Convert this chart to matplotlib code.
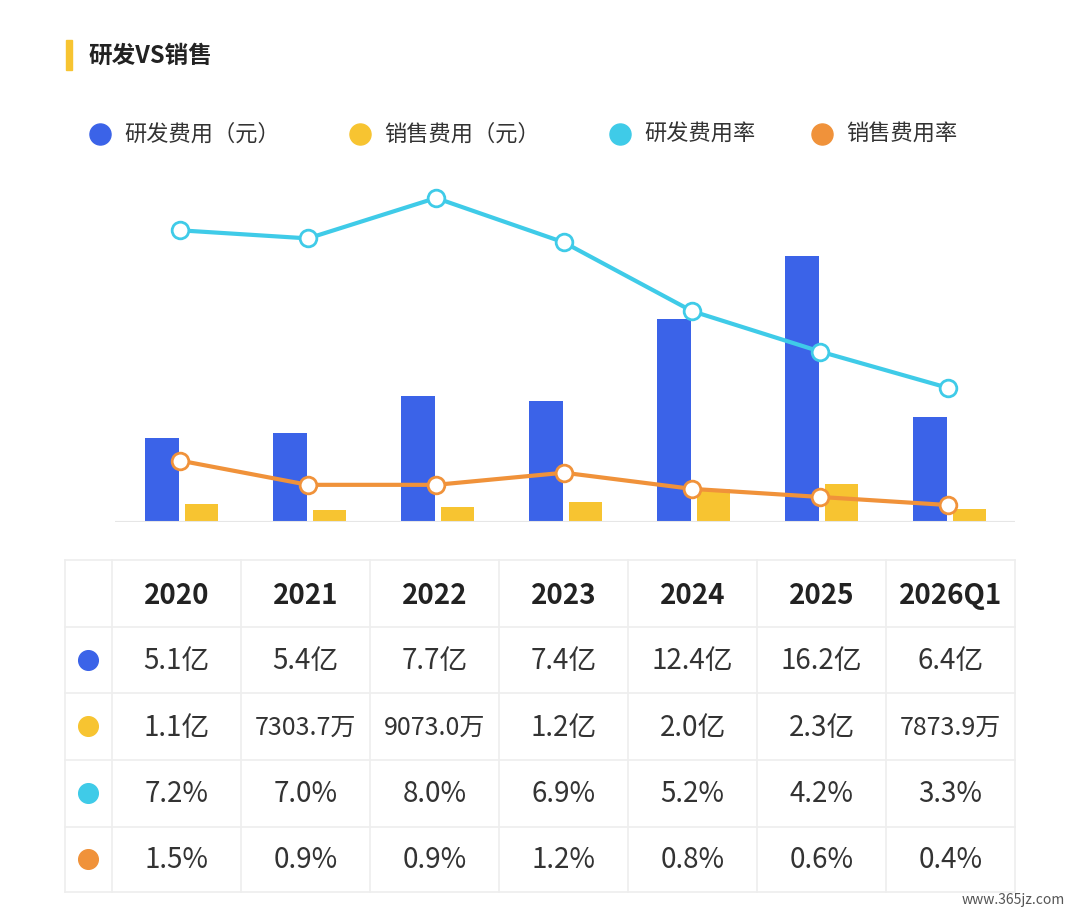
import matplotlib
matplotlib.use("Agg")
import matplotlib.pyplot as plt

plt.rcParams['font.family'] = ['Noto Sans CJK SC', 'DejaVu Sans']

categories = ["2020", "2021", "2022", "2023", "2024", "2025", "2026Q1"]
rd_cost = [5.1, 5.4, 7.7, 7.4, 12.4, 16.2, 6.4]          # 亿
sales_cost = [1.1, 0.73037, 0.9073, 1.2, 2.0, 2.3, 0.78739]  # 亿
rd_rate = [7.2, 7.0, 8.0, 6.9, 5.2, 4.2, 3.3]
sales_rate = [1.5, 0.9, 0.9, 1.2, 0.8, 0.6, 0.4]
rd_labels = ["5.1亿", "5.4亿", "7.7亿", "7.4亿", "12.4亿", "16.2亿", "6.4亿"]
sales_labels = ["1.1亿", "7303.7万", "9073.0万", "1.2亿", "2.0亿", "2.3亿", "7873.9万"]
rd_rate_labels = ["7.2%", "7.0%", "8.0%", "6.9%", "5.2%", "4.2%", "3.3%"]
sales_rate_labels = ["1.5%", "0.9%", "0.9%", "1.2%", "0.8%", "0.6%", "0.4%"]
legend_names = ["研发费用（元）", "销售费用（元）", "研发费用率", "销售费用率"]

BLUE, YELLOW, CYAN, ORANGE = "#3b63e8", "#f7c431", "#3fcbe8", "#f0923a"
W, H = 1080, 913
fig = plt.figure(figsize=(W/100, H/100), dpi=100)
bg = fig.add_axes([0, 0, 1, 1])
bg.set_xlim(0, W); bg.set_ylim(H, 0); bg.axis("off")

# title
bg.add_patch(plt.Rectangle((66, 40), 6, 30, color=YELLOW))
bg.text(88, 56, "研发VS销售", fontsize=17, fontweight="bold", va="center", color="#222")

# legend
lx = [100, 360, 620, 822]
for x, name, c in zip(lx, legend_names, [BLUE, YELLOW, CYAN, ORANGE]):
    bg.scatter([x], [134], s=230, color=c, zorder=3)
    bg.text(x + 24, 134, name, fontsize=16, va="center", color="#333")

# chart
top, base, left, right = 150, 522, 115, 1015
ax = fig.add_axes([left/W, 1 - base/H, (right-left)/W, (base-top)/H])
ax.set_xlim((left-180)/128, (right-180)/128)
ax.set_ylim(0, (base-top)/16.4)
ax.axis("off")
xs = list(range(len(categories)))
ax.bar([x - 0.14 for x in xs], rd_cost, width=0.26, color=BLUE, zorder=2)
ax.bar([x + 0.17 for x in xs], sales_cost, width=0.26, color=YELLOW, zorder=2)
ax.axhline(0, color="#e6e6e6", lw=1.5)
ax2 = ax.twinx()
ax2.set_ylim(-0.02, (base-top)/40.4 - 0.02)
ax2.axis("off")
ax2.plot(xs, rd_rate, color=CYAN, lw=3, marker="o", ms=12, mfc="white", mec=CYAN, mew=2, zorder=4)
ax2.plot(xs, sales_rate, color=ORANGE, lw=3, marker="o", ms=12, mfc="white", mec=ORANGE, mew=2, zorder=4)

# table
rows_y = [560, 627, 693, 760, 827, 892]
col_x = [65, 112] + [112 + 129 * (i + 1) for i in range(7)]
for y in rows_y:
    bg.plot([65, 1015], [y, y], color="#eeeeee", lw=1.2)
for x in col_x:
    bg.plot([x, x], [560, 892], color="#eeeeee", lw=1.2)
centers = [(col_x[i+1] + col_x[i+2]) / 2 for i in range(7)]
rc = [(rows_y[i] + rows_y[i+1]) / 2 for i in range(5)]
for cx, t in zip(centers, categories):
    bg.text(cx, rc[0] + 2, t, fontsize=20, fontweight="bold", ha="center", va="center", color="#222")
data_rows = [rd_labels, sales_labels, rd_rate_labels, sales_rate_labels]
for r, (labels, c) in enumerate(zip(data_rows, [BLUE, YELLOW, CYAN, ORANGE])):
    y = rc[r + 1]
    bg.scatter([88], [y], s=200, color=c)
    for cx, t in zip(centers, labels):
        fs = 18 if len(t) > 6 else 20
        bg.text(cx, y + 1, t, fontsize=fs, ha="center", va="center", color="#333")

bg.text(1065, 900, "www.365jz.com", fontsize=10, ha="right", va="center", color="#555")
fig.savefig("out.png", dpi=100, facecolor="white")
